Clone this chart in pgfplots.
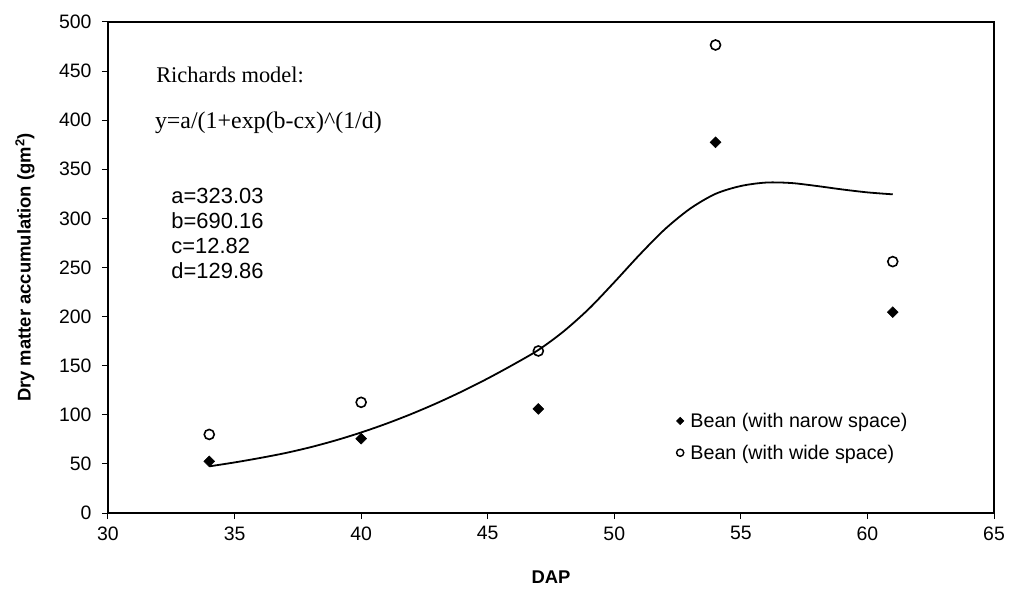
\documentclass[border=0pt]{standalone}
\usepackage{pgfplots}
\pgfplotsset{compat=1.18}
\usepackage{fontspec}
\setmainfont{Liberation Sans}
\newfontfamily\timesfont{Liberation Serif}
\begin{document}
\begin{tikzpicture}
\path[use as bounding box] (-108bp,-79bp) rectangle (904bp,513bp);
\begin{axis}[
  at={(0,0)}, anchor=south west,
  scale only axis, width=886bp, height=491bp,
  xmin=30, xmax=65, ymin=0, ymax=500,
  xtick={30,35,...,65}, ytick={0,50,...,500},
  xtick pos=bottom, ytick pos=left,
  tick align=outside, major tick length=6bp,
  axis line style={line width=1.3bp}, every tick/.style={line width=1bp, black},
  tick label style={font=\fontsize{19.5}{22}\selectfont},
  yticklabel style={xshift=-7bp},
  xticklabel style={yshift=-4bp},
  /pgf/number format/assume math mode=true,
  xlabel={\textbf{DAP}}, ylabel={\textbf{Dry matter accumulation (gm\textsuperscript{2})}},
  label style={font=\fontsize{18.5}{21}\selectfont},
  xlabel style={at={(axis description cs:0.5,0)}, anchor=center, yshift=-64bp},
  ylabel style={at={(axis description cs:0,0.5)}, anchor=center, xshift=0bp, yshift=83bp},
  clip=false,
  legend style={draw=none, fill=none, at={(axis cs:52.45,104)}, anchor=north west,
    font=\fontsize{19.8}{22}\selectfont, row sep=12bp, inner sep=0pt},
  legend cell align=left,
]
\addplot[only marks, mark=square*, mark size=3.8bp, black, mark options={rotate=45, line width=0.6bp},
  legend image code/.code={\draw[black, mark=square*, mark size=2.6bp, mark options={rotate=45, line width=0.6bp}] plot coordinates {(0bp,0bp)}; \path (8bp,0bp);}]
  coordinates {(34,52.6) (40,75.7) (47,106) (54,377.5) (61,204.5)};
\addlegendentry{Bean (with narow space)}
\addplot[only marks, mark=o, mark size=5bp, black, mark options={line width=1.6bp},
  legend image code/.code={\draw[black, mark=o, mark size=3.6bp, mark options={line width=1.4bp}] plot coordinates {(0bp,0bp)}; \path (8bp,0bp);}]
  coordinates {(34,80) (40,112.7) (47,165) (54,476.6) (61,256)};
\addlegendentry{Bean (with wide space)}
\addplot[smooth, line width=1.8bp, black, forget plot] coordinates {
(34,47.5) (35,51.5) (36,56) (37,61) (38,67) (39,74) (40,82) (41,91) (42,101)
(43,112) (44,124) (45,137) (46,151) (47,166) (48,185) (49,208) (50,235)
(51,263) (52,289) (53,310) (54,325) (55,333) (56,336.5) (57,336) (58,333)
(59,329.5) (60,326.5) (61,324.5)};
\node[anchor=west, font=\timesfont\fontsize{22.5}{25}\selectfont, inner sep=0pt] at (axis cs:31.9,446) {Richards model:};
\node[anchor=west, font=\timesfont\fontsize{24}{27}\selectfont, inner sep=0pt] at (axis cs:31.85,397) {y=a/(1+exp(b-cx)\^{}(1/d)};
\node[anchor=north west, align=left, font=\fontsize{22}{25}\selectfont, inner sep=0pt] at (axis cs:32.5,331) {a=323.03\\b=690.16\\c=12.82\\d=129.86};
\end{axis}
\end{tikzpicture}
\end{document}
